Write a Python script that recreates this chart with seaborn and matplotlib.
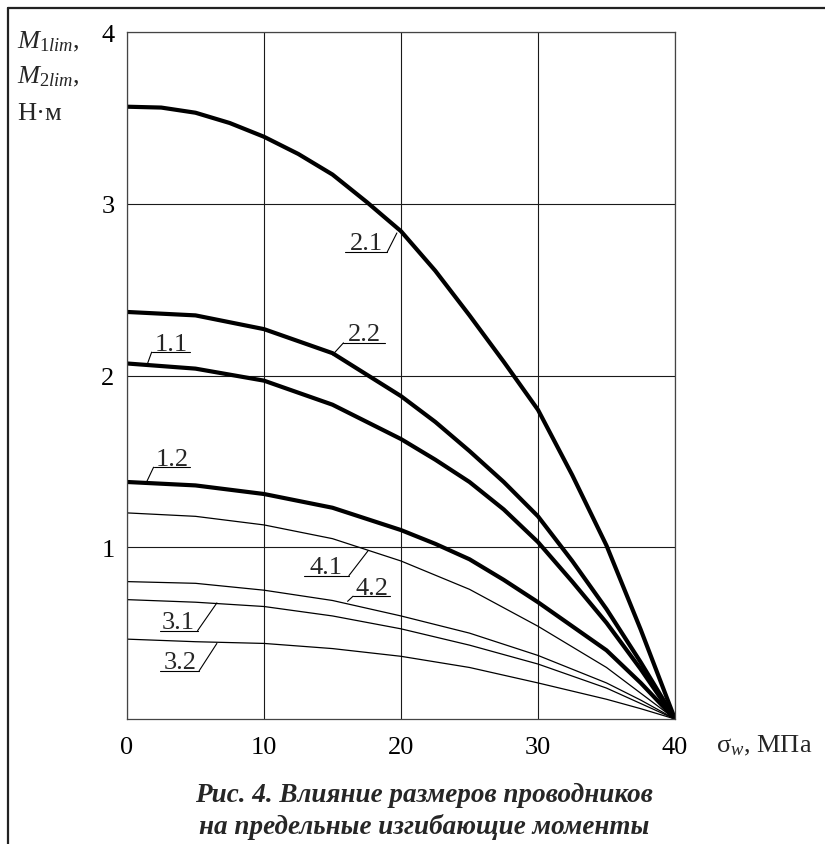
import matplotlib
matplotlib.use("Agg")
import matplotlib.pyplot as plt
import pandas as pd
import seaborn as sns
from matplotlib.lines import Line2D

# sigma_w, MPa
SIGMA = [0, 5, 10, 15, 20, 25, 30, 35, 37.5, 40]
SIGMA_MID = [0, 5, 10, 15, 20, 22.5, 25, 27.5, 30, 32.5, 35, 37.5, 40]
SIGMA_21 = [0, 2.5, 5, 7.5, 10, 12.5, 15, 17.5, 20, 22.5, 25, 27.5, 30, 32.5, 35, 37.5, 40]

# limit moments, N*m
M_2_1 = [3.565, 3.56, 3.53, 3.47, 3.39, 3.29, 3.17, 3.01, 2.84, 2.61, 2.35, 2.08, 1.80, 1.42, 1.01, 0.52, 0]
M_2_2 = [2.37, 2.35, 2.27, 2.13, 1.88, 1.73, 1.56, 1.38, 1.18, 0.92, 0.64, 0.33, 0]
M_1_1 = [2.07, 2.04, 1.97, 1.83, 1.63, 1.51, 1.38, 1.22, 1.03, 0.80, 0.56, 0.29, 0]
M_1_2 = [1.38, 1.36, 1.31, 1.23, 1.10, 1.02, 0.93, 0.81, 0.68, 0.54, 0.40, 0.21, 0]
M_4_1 = [1.20, 1.18, 1.13, 1.05, 0.92, 0.755, 0.54, 0.30, 0.15, 0]
M_4_2 = [0.80, 0.79, 0.75, 0.69, 0.60, 0.50, 0.37, 0.21, 0.11, 0]
M_3_1 = [0.695, 0.68, 0.655, 0.60, 0.525, 0.43, 0.32, 0.18, 0.09, 0]
M_3_2 = [0.465, 0.45, 0.44, 0.41, 0.365, 0.30, 0.21, 0.115, 0.06, 0]

CURVES = [
    ("2.1", SIGMA_21, M_2_1),
    ("2.2", SIGMA_MID, M_2_2),
    ("1.1", SIGMA_MID, M_1_1),
    ("1.2", SIGMA_MID, M_1_2),
    ("4.1", SIGMA, M_4_1),
    ("4.2", SIGMA, M_4_2),
    ("3.1", SIGMA, M_3_1),
    ("3.2", SIGMA, M_3_2),
]
THICK = {"1.1", "1.2", "2.1", "2.2"}

# callout: underline x0, x1, y, slash start x, slash end (x, y)
CALLOUTS = {
    "2.1": (15.9, 19.0, 2.72, 19.0, 19.7, 2.83),
    "2.2": (15.8, 18.8, 2.19, 15.8, 15.0, 2.12),
    "1.1": (1.8, 4.6, 2.136, 1.8, 1.5, 2.07),
    "1.2": (1.94, 4.6, 1.466, 1.94, 1.46, 1.385),
    "4.1": (12.9, 16.2, 0.835, 16.2, 17.6, 0.98),
    "4.2": (16.5, 19.2, 0.715, 16.5, 16.1, 0.685),
    "3.1": (2.38, 5.15, 0.514, 5.15, 6.56, 0.676),
    "3.2": (2.43, 5.27, 0.281, 5.27, 6.56, 0.44),
}

sns.set_theme(style="white")
plt.rcParams["font.family"] = ["Liberation Serif", "DejaVu Serif"]
plt.rcParams["mathtext.fontset"] = "custom"
plt.rcParams["mathtext.rm"] = "Liberation Serif"
plt.rcParams["mathtext.it"] = "Liberation Serif:italic"
plt.rcParams["mathtext.bf"] = "Liberation Serif:bold"

W, H = 825, 845
fig = plt.figure(figsize=(W / 100, H / 100), dpi=100, facecolor="white")
ax = fig.add_axes([127 / W, 1 - 720 / H, 548 / W, 687 / H])

rows = []
for name, xs, ys in CURVES:
    for x, y in zip(xs, ys):
        rows.append({"curve": name, "sigma": x, "M": y})
df = pd.DataFrame(rows)

for name, _, _ in CURVES:
    sub = df[df["curve"] == name]
    sns.lineplot(data=sub, x="sigma", y="M", ax=ax, color="black",
                 lw=3.0 if name in THICK else 0.9, sort=True, estimator=None)

for name, (x0, x1, yu, xs0, xs1, ys1) in CALLOUTS.items():
    ax.plot([x0, x1], [yu, yu], color="black", lw=0.8)
    ax.plot([xs0, xs1], [yu, ys1], color="black", lw=0.8)
    ax.text((x0 + x1) / 2, yu + 0.015, name, ha="center", va="baseline", fontsize=19)

ax.set_xlim(0, 40)
ax.set_ylim(0, 4)
ax.set_xticks([0, 10, 20, 30, 40])
ax.set_yticks([1, 2, 3, 4])
ax.set(xlabel="", ylabel="")
ax.grid(True, color="#1a1a1a", lw=0.8)
ax.tick_params(length=0, labelsize=19, colors="black")
ax.tick_params(axis="x", pad=12)
ax.tick_params(axis="y", pad=9)
for sp in ax.spines.values():
    sp.set_visible(True)
    sp.set_color("#444444")
    sp.set_linewidth(0.9)

fig.text(17 / W, 1 - 48 / H, r"$M_{1lim}$,", fontsize=19, va="baseline")
fig.text(17 / W, 1 - 83 / H, r"$M_{2lim}$,", fontsize=19, va="baseline")
fig.text(17 / W, 1 - 120 / H, "Н·м", fontsize=19, va="baseline")
fig.text(716 / W, 1 - 746 / H, r"σ$_{w}$, МПа", fontsize=19, va="center", ha="left")

fig.text(424 / W, 1 - 795 / H, "Рис. 4. Влияние размеров проводников",
         ha="center", va="center", fontsize=19.5, fontweight="bold", fontstyle="italic")
fig.text(424 / W, 1 - 827 / H, "на предельные изгибающие моменты",
         ha="center", va="center", fontsize=19.5, fontweight="bold", fontstyle="italic")

fig.add_artist(Line2D([8 / W, 8 / W], [0, 1 - 9 / H], transform=fig.transFigure, color="#222222", lw=1.6))
fig.add_artist(Line2D([8 / W, 1], [1 - 9 / H, 1 - 9 / H], transform=fig.transFigure, color="#222222", lw=1.6))

fig.savefig("out.png", dpi=100, facecolor="white")
